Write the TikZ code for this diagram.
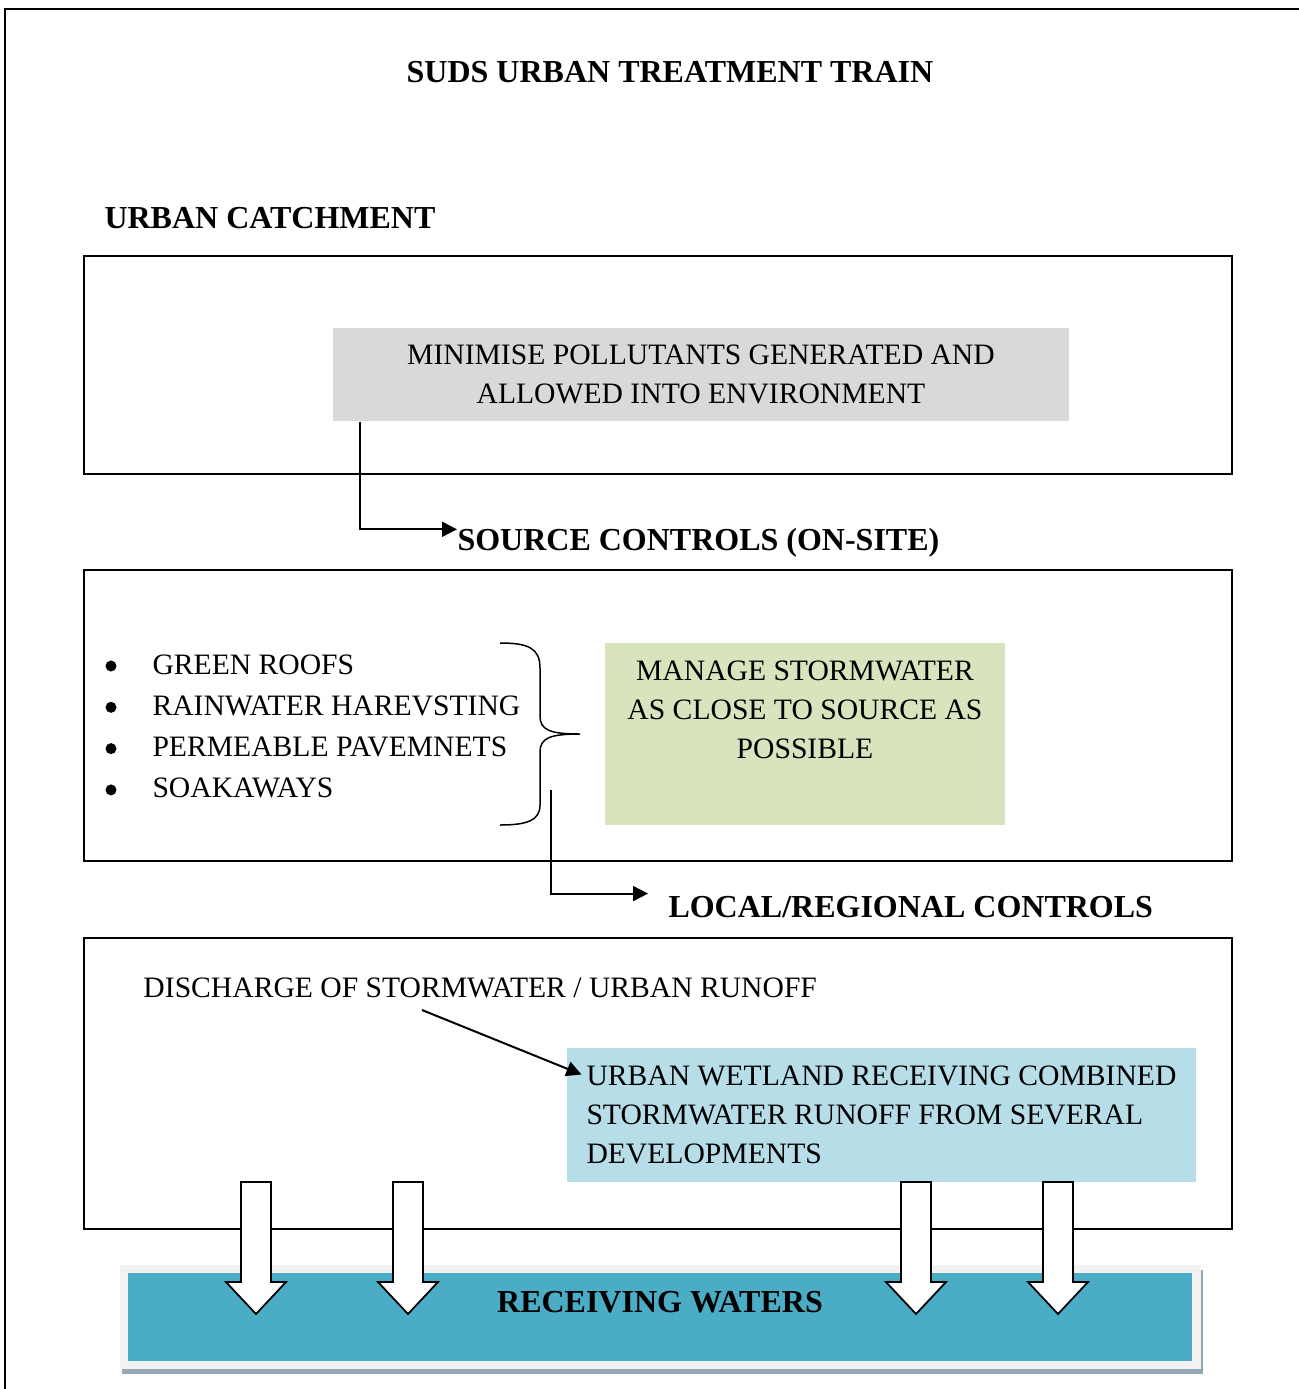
\documentclass[tikz,border=0pt]{standalone}
\usepackage{fontspec}
\setmainfont{Liberation Serif}
\usetikzlibrary{positioning,arrows.meta}

\definecolor{greyfill}{HTML}{D9D9D9}
\definecolor{greenfill}{HTML}{D7E4BD}
\definecolor{bluefill}{HTML}{B7DDE8}
\definecolor{tealfill}{HTML}{4BACC6}
\definecolor{rimfill}{HTML}{F2F2F2}
\definecolor{shadowfill}{HTML}{95A9B4}

\begin{document}
\begin{tikzpicture}[
  x=0.4pt, y=-0.4pt,
  font=\fontsize{11.85}{15.6}\selectfont,
  frame/.style={draw, line width=0.6pt, minimum width=459.2pt, inner sep=0pt},
  head/.style={font=\fontsize{12.8}{15}\selectfont\bfseries, inner sep=0pt},
  fillbox/.style={inner sep=0pt, align=center},
  plain/.style={inner sep=0pt},
  dot/.style={circle, fill, inner sep=0pt, minimum size=4.4pt},
  link/.style={line width=0.8pt, -{Triangle[length=6pt,width=6pt]}},
  flow/.style={draw, fill=white, line width=0.7pt, line join=miter},
  blockdown/.pic={\draw[flow] (-15,0) -- (15,0) -- (15,100) -- (30,100) -- (0,132) -- (-30,100) -- (-15,100) -- cycle;}
]
\useasboundingbox (0,0) rectangle (1299,1389);
% outer frame
\draw[line width=0.8pt] (5,1389) -- (5,9) -- (1299,9);
\node[head, anchor=base] (title) at (670,82) {SUDS URBAN TREATMENT TRAIN};

% urban catchment
\node[head, anchor=base west] (catch) at (104,228) {URBAN CATCHMENT};
\node[frame, minimum height=87.2pt] (box1) at (658,365) {};
\node[fillbox, fill=greyfill, minimum width=294.4pt, minimum height=37.2pt] (grey) at (701,374.5)
  {MINIMISE POLLUTANTS GENERATED AND\\ALLOWED INTO ENVIRONMENT};

% source controls
\node[head, anchor=base west] (source) at (457,550) {SOURCE CONTROLS (ON-SITE)};
\node[frame, minimum height=116.4pt] (box2) at (658,715.5) {};
\foreach \txt [count=\i] in {GREEN ROOFS, RAINWATER HAREVSTING, PERMEABLE PAVEMNETS, SOAKAWAYS}{
  \node[dot] (dot\i) at (111,{666+41.3*(\i-1)}) {};
  \node[plain, anchor=base west] (item\i) at (152,{674+41.3*(\i-1)}) {\txt};
}
\draw[line width=0.6pt] (500,643) .. controls (528,643) and (540,648) .. (540,668) -- (540,716)
  .. controls (540,730) and (550,734) .. (580,734) .. controls (550,734) and (540,738) .. (540,752)
  -- (540,805) .. controls (540,820) and (528,825) .. (500,825);
\node[fill=greenfill, minimum width=160pt, minimum height=72.8pt] (manage) at (805,734) {};
\node[fillbox, anchor=base] (managetxt) at (805,758) {MANAGE STORMWATER\\AS CLOSE TO SOURCE AS\\POSSIBLE};

% local / regional controls
\node[head, anchor=base west] (local) at (668,917) {LOCAL/REGIONAL CONTROLS};
\node[frame, minimum height=116.4pt] (box3) at (658,1083.5) {};
\node[plain, anchor=base west] (discharge) at (143,997) {DISCHARGE OF STORMWATER / URBAN RUNOFF};
\node[fill=bluefill, align=left, inner sep=0pt, minimum width=251.6pt, minimum height=53.6pt] (wetland) at (881.5,1115)
  {URBAN WETLAND RECEIVING COMBINED\\STORMWATER RUNOFF FROM SEVERAL\\DEVELOPMENTS};

% receiving waters
\fill[shadowfill] (122,1270) rectangle (1203,1374);
\node[fill=rimfill, minimum width=432.4pt, minimum height=41.6pt] (rim) at (660.5,1317) {};
\node[fill=tealfill, minimum width=425.6pt, minimum height=35.2pt] (waters) at (660,1317) {};
\node[head, anchor=base] (waterstxt) at (660,1312) {RECEIVING WATERS};

% connectors
\coordinate (runoff) at (551,790);
\coordinate (dstart) at (422,1010);
\draw[link] ([xshift=11.2pt]grey.south west) |- ([yshift=5.2pt]source.west);
\draw[link] (runoff) |- ([xshift=-8pt,yshift=5.2pt]local.west);
\draw[link] (dstart) -- ([xshift=6pt,yshift=-10.8pt]wetland.north west);
\foreach \ax in {256,408,916,1058}
  \pic at (\ax,1182) {blockdown};
\end{tikzpicture}
\end{document}
